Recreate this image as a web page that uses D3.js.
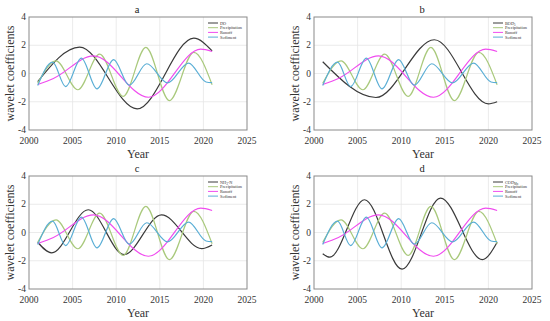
<!DOCTYPE html>
<html>
<head>
<meta charset="utf-8">
<script src="https://cdn.jsdelivr.net/npm/d3@7"></script>
<style>
  body { margin: 0; background: #fff; }
  text { font-family: "Liberation Serif", "Times New Roman", serif; }
</style>
</head>
<body>
<div id="chart"></div>
<script>
// shared series (key points)
const precipYears = [2001, 2003.1, 2005.6, 2008.1, 2010.8, 2013.4, 2016.1, 2018.9, 2021];
const precipVals  = [-0.7, 0.9, -1.15, 1.37, -1.62, 1.85, -1.92, 1.5, -0.8];

const runoffYears = [2001, 2002.8, 2007.4, 2013.7, 2019.7, 2021];
const runoffVals  = [-0.78, -0.35, 1.25, -1.68, 1.73, 1.56];

const sedYears = [2001, 2002.7, 2004.2, 2006.0, 2007.8, 2009.7, 2011.5, 2013.5, 2015.9, 2018.3, 2020.3, 2021];
const sedVals  = [-0.85, 0.8, -0.93, 1.09, -1.09, 0.98, -0.83, 0.69, -0.66, 0.74, -0.6, -0.65];

// black series, one per panel
const doYears = [2001, 2005.8, 2012.4, 2018.9, 2021];
const doVals  = [-0.57, 1.87, -2.5, 2.5, 1.6];

const bodYears = [2001, 2007.1, 2013.8, 2020.0, 2021];
const bodVals  = [0.83, -1.7, 2.39, -2.15, -2.0];

const nhYears = [2001, 2002.6, 2006.8, 2010.9, 2015.2, 2019.8, 2021];
const nhVals  = [-0.69, -1.44, 1.61, -1.56, 1.25, -1.14, -0.88];

const codYears = [2001, 2001.8, 2005.8, 2010.1, 2014.5, 2019.3, 2021];
const codVals  = [-1.5, -1.75, 2.32, -2.6, 2.44, -1.92, -0.69];

const xTicks = [2000, 2005, 2010, 2015, 2020, 2025];
const yTicks = [-4, -2, 0, 2, 4];

const panels = [
  {title: "a", x: 29,  y: 17,  label: ["DO", ""],    years: doYears,  vals: doVals},
  {title: "b", x: 314, y: 17,  label: ["BOD", "5"],  years: bodYears, vals: bodVals},
  {title: "c", x: 29,  y: 176, label: ["NH", "3", "-N"], years: nhYears, vals: nhVals},
  {title: "d", x: 314, y: 176, label: ["COD", "Mn"], years: codYears, vals: codVals}
];

const W = 550, H = 321, pw = 218, ph = 113;
const colors = {black: "#3a3a3a", precip: "#a9c97c", runoff: "#f04cef", sed: "#5aaed5"};

const svg = d3.select("#chart").append("svg")
  .attr("width", W).attr("height", H);

const x = d3.scaleLinear().domain([2000, 2025]).range([0, pw]);
const y = d3.scaleLinear().domain([-4, 4]).range([ph, 0]);

const line = d3.line()
  .x(d => x(d[0]))
  .y(d => y(d[1]))
  .curve(d3.curveMonotoneX);

const zip = (a, b) => a.map((v, i) => [v, b[i]]);

panels.forEach(p => {
  const g = svg.append("g").attr("transform", `translate(${p.x},${p.y})`);

  // grid
  g.selectAll(".gx").data(xTicks.slice(1, -1)).join("line")
    .attr("x1", d => x(d)).attr("x2", d => x(d))
    .attr("y1", 0).attr("y2", ph)
    .attr("stroke", "#e6e6e6").attr("stroke-width", 0.8);
  g.selectAll(".gy").data(yTicks.slice(1, -1)).join("line")
    .attr("y1", d => y(d)).attr("y2", d => y(d))
    .attr("x1", 0).attr("x2", pw)
    .attr("stroke", "#e6e6e6").attr("stroke-width", 0.8);

  // frame
  g.append("rect").attr("width", pw).attr("height", ph)
    .attr("fill", "none").attr("stroke", "#8a8a8a").attr("stroke-width", 1);

  // tick labels
  g.selectAll(".tx").data(xTicks).join("text")
    .attr("x", d => x(d)).attr("y", ph + 14)
    .attr("text-anchor", "middle").attr("font-size", 9.5).attr("fill", "#333")
    .text(d => d);
  g.selectAll(".ty").data(yTicks).join("text")
    .attr("x", -3).attr("y", d => y(d) + 3)
    .attr("text-anchor", "end").attr("font-size", 9.5).attr("fill", "#333")
    .text(d => d);

  // axis labels + title
  g.append("text").attr("x", pw / 2).attr("y", ph + 28)
    .attr("text-anchor", "middle").attr("font-size", 12).attr("fill", "#333")
    .text("Year");
  g.append("text")
    .attr("transform", `translate(-15,${ph / 2}) rotate(-90)`)
    .attr("text-anchor", "middle").attr("font-size", 12).attr("fill", "#333")
    .text("wavelet coefficients");
  g.append("text").attr("x", pw / 2 - 1).attr("y", -4)
    .attr("text-anchor", "middle").attr("font-size", 10.5).attr("fill", "#222")
    .text(p.title);

  const series = [
    {data: zip(p.years, p.vals), color: colors.black},
    {data: zip(precipYears, precipVals), color: colors.precip},
    {data: zip(runoffYears, runoffVals), color: colors.runoff},
    {data: zip(sedYears, sedVals), color: colors.sed}
  ];

  g.selectAll(".s").data(series).join("path")
    .attr("d", d => line(d.data))
    .attr("fill", "none")
    .attr("stroke", d => d.color)
    .attr("stroke-width", 1.2);

  // legend
  const lg = g.append("g").attr("transform", `translate(${pw - 39},6)`);
  const names = [null, "Precipitation", "Runoff", "Sediment"];
  series.forEach((s, i) => {
    const row = lg.append("g").attr("transform", `translate(0,${i * 4.7})`);
    row.append("line").attr("x1", 0).attr("x2", 10)
      .attr("stroke", s.color).attr("stroke-width", 1);
    const t = row.append("text").attr("x", 12).attr("y", 1.5)
      .attr("font-size", 4.3).attr("fill", "#333");
    if (i === 0) {
      t.append("tspan").text(p.label[0]);
      if (p.label[1]) t.append("tspan").attr("font-size", 3).attr("dy", 1).text(p.label[1]);
      if (p.label[2]) t.append("tspan").attr("dy", -1).text(p.label[2]);
    } else {
      t.text(names[i]);
    }
  });
});
</script>
</body>
</html>
